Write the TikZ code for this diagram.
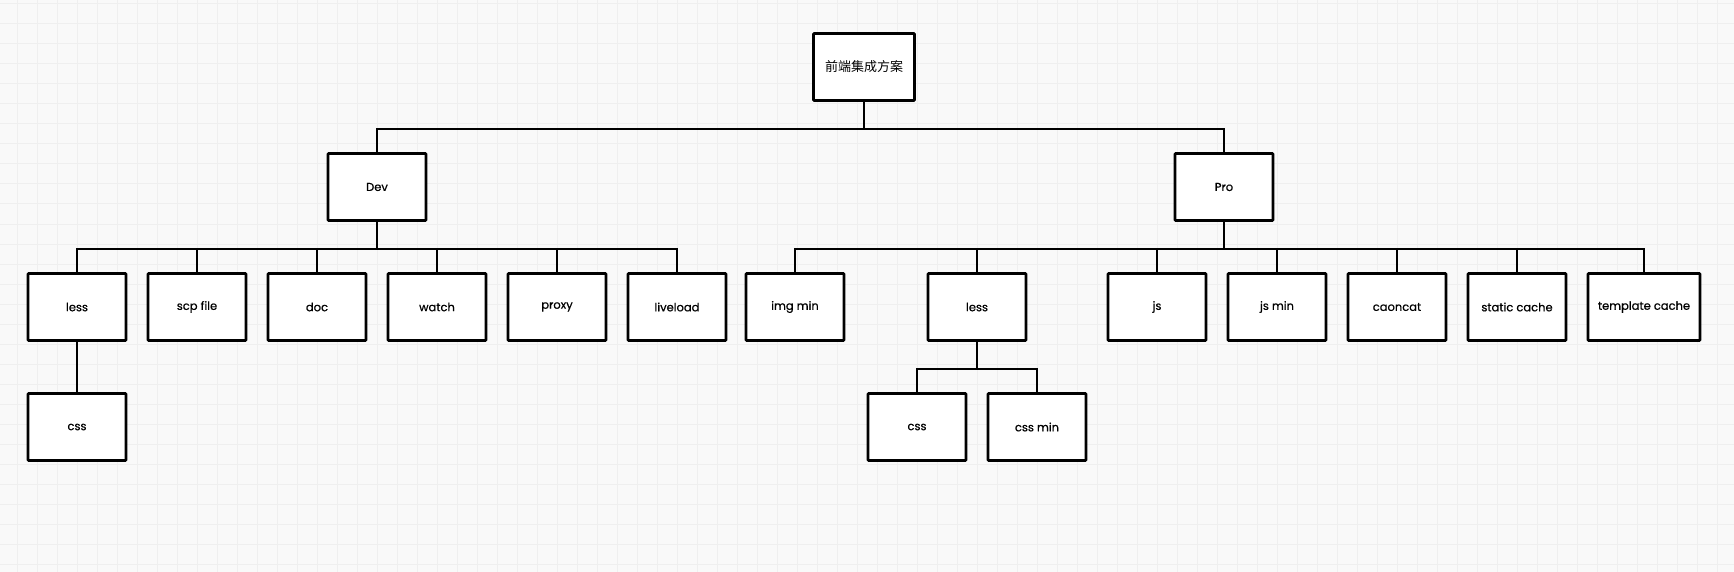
\documentclass[tikz,border=0pt]{standalone}
\usepackage{fontspec}
\setmainfont{Poppins}[FakeBold=0.6]
\newfontfamily\cjk{Noto Sans CJK SC}
\definecolor{bgc}{HTML}{F9F9F9}
\definecolor{gridc}{HTML}{EFEFEF}
\tikzset{
  box/.style={draw=black, fill=white, line width=2.8pt, minimum width=98pt, minimum height=67pt, inner sep=0pt, font=\fontsize{11.5}{13}\selectfont, rounded corners=0.8pt},
  wire/.style={draw=black, line width=2pt}
}
\begin{document}
\begin{tikzpicture}[x=1pt,y=-1pt]
\useasboundingbox (0,0) rectangle (1734,572);
\fill[bgc] (0,0) rectangle (1734,572);
\foreach \i in {0,...,86} {\draw[gridc, line width=1pt] (17.7+20*\i,0) -- (17.7+20*\i,572);}
\foreach \j in {0,...,28} {\draw[gridc, line width=1pt] (0,4+20*\j) -- (1734,4+20*\j);}

% nodes
\node[box, minimum width=101pt] (root) at (864,67) {\cjk\fontsize{13}{15}\selectfont 前端集成方案};
\node[box] (dev) at (377,187) {Dev};
\node[box] (pro) at (1224,187) {Pro};

\node[box] (dless) at (77,307) {less};
\node[box] (scp) at (197,307) {scp file};
\node[box] (doc) at (317,307) {doc};
\node[box] (watch) at (437,307) {watch};
\node[box] (proxy) at (557,307) {proxy};
\node[box] (live) at (677,307) {liveload};
\node[box] (dcss) at (77,427) {css};

\node[box] (img) at (795,307) {img min};
\node[box] (pless) at (977,307) {less};
\node[box] (js) at (1157,307) {js};
\node[box] (jsmin) at (1277,307) {js min};
\node[box] (concat) at (1397,307) {caoncat};
\node[box] (static) at (1517,307) {static cache};
\node[box, minimum width=112pt] (tpl) at (1644,307) {template cache};
\node[box] (pcss) at (917,427) {css};
\node[box] (pcssmin) at (1037,427) {css min};

% connectors
\path[wire] (root.south) -- ++(0,27) coordinate (b0);
\path[wire] (dev.north) |- (b0) -| (pro.north);

\path[wire] (dev.south) -- ++(0,27) coordinate (b1);
\foreach \n in {dless,scp,doc,watch,proxy,live} {\path[wire] (b1) -| (\n.north);}

\path[wire] (pro.south) -- ++(0,27) coordinate (b2);
\foreach \n in {img,pless,js,jsmin,concat,static,tpl} {\path[wire] (b2) -| (\n.north);}

\path[wire] (dless.south) -- (dcss.north);

\path[wire] (pless.south) -- ++(0,27) coordinate (b3);
\path[wire] (b3) -| (pcss.north);
\path[wire] (b3) -| (pcssmin.north);
\end{tikzpicture}
\end{document}
